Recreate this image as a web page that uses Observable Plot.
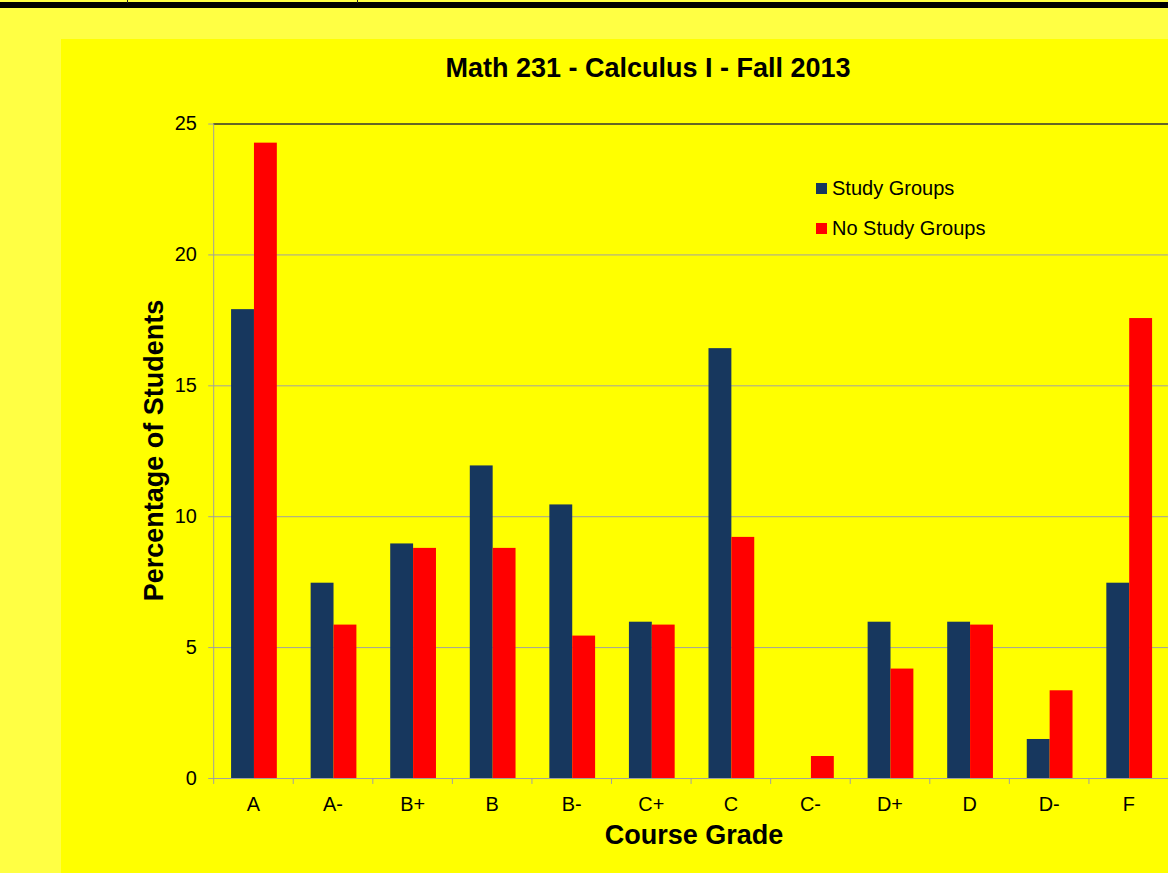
<!DOCTYPE html>
<html>
<head>
<meta charset="utf-8">
<script src="https://cdn.jsdelivr.net/npm/d3@7"></script>
<script src="https://cdn.jsdelivr.net/npm/@observablehq/plot@0.6"></script>
<style>
  html, body { margin: 0; padding: 0; }
  body { width: 1168px; height: 873px; overflow: hidden; background: #FFFF44; position: relative;
         font-family: "Liberation Sans", Arial, Helvetica, sans-serif; }
  #topbar { position: absolute; left: 0; top: 2px; width: 1168px; height: 6px; background: #000; }
  .notch { position: absolute; top: 0; width: 1px; height: 3px; background: #222; }
  #panel { position: absolute; left: 61px; top: 39px; width: 1107px; height: 834px; background: #FFFF00; overflow: hidden; }
  #title { position: absolute; left: 287px; width: 600px; top: 16px; height: 27px; line-height: 27px;
           text-align: center; font-size: 27px; font-weight: bold; color: #000; white-space: nowrap; }
  #ylabel { position: absolute; left: -107px; width: 400px; top: 398px; height: 27px; line-height: 27px;
            text-align: center; font-size: 27px; font-weight: bold; color: #000; white-space: nowrap;
            transform: rotate(-90deg); }
  #xlabel { position: absolute; left: 433px; width: 400px; top: 783px; height: 27px; line-height: 27px;
            text-align: center; font-size: 27px; font-weight: bold; color: #000; white-space: nowrap; }
  .lg-sw { position: absolute; width: 11px; height: 11px; }
  .lg-tx { position: absolute; font-size: 20px; line-height: 20px; height: 20px; color: #000; white-space: nowrap; }
  #chart { position: absolute; left: 0; top: 0; }
</style>
</head>
<body>
<div id="topbar"></div>
<div class="notch" style="left:127px"></div>
<div class="notch" style="left:357px"></div>
<div id="panel">
  <div id="chart"></div>
  <div id="title"></div>
  <div id="ylabel"></div>
  <div id="xlabel"></div>
  <div id="legend"></div>
</div>
<script>
// ---- data ----
const grades = ["A", "A-", "B+", "B", "B-", "C+", "C", "C-", "D+", "D", "D-", "F"];
const studyGroups   = [17.91, 7.46, 8.96, 11.94, 10.45, 5.97, 16.42, 0, 5.97, 5.97, 1.49, 7.46];
const noStudyGroups = [24.27, 5.86, 8.79, 8.79, 5.44, 5.86, 9.21, 0.84, 4.18, 5.86, 3.35, 17.57];
const seriesNames = ["Study Groups", "No Study Groups"];
const seriesColors = ["#17375E", "#FF0000"];
const yTicks = [0, 5, 10, 15, 20, 25];
const titleText = "Math 231 - Calculus I - Fall 2013";
const xLabelText = "Course Grade";
const yLabelText = "Percentage of Students";

const rows = grades.map((g, i) => ({grade: g, study: studyGroups[i], none: noStudyGroups[i]}));

document.getElementById("title").textContent = titleText;
document.getElementById("xlabel").textContent = xLabelText;
document.getElementById("ylabel").textContent = yLabelText;

// legend
const legend = document.getElementById("legend");
seriesNames.forEach((name, i) => {
  const sw = document.createElement("div");
  sw.className = "lg-sw";
  sw.style.left = (816 - 61) + "px";
  sw.style.top = (183 - 39 + i * 40) + "px";
  sw.style.background = seriesColors[i];
  legend.appendChild(sw);
  const tx = document.createElement("div");
  tx.className = "lg-tx";
  tx.style.left = (832 - 61) + "px";
  tx.style.top = (178 - 39 + i * 40) + "px";
  tx.textContent = name;
  legend.appendChild(tx);
});

const chart = Plot.plot({
  width: 1113,
  height: 834,
  marginLeft: 153,
  marginRight: 0,
  marginTop: 85,
  marginBottom: 91,
  style: {background: "transparent", fontFamily: "'Liberation Sans', Arial, sans-serif", fontSize: "20px", color: "black", overflow: "visible"},
  x: {domain: grades, padding: 0, axis: null},
  y: {domain: [0, 25], axis: null},
  marks: [
    Plot.gridY({ticks: yTicks.filter(t => t > 0 && t < 25), stroke: "#a0a0a0", strokeOpacity: 1}),
    Plot.barY(rows, {x: "grade", y: "study", fill: seriesColors[0], insetLeft: 18, insetRight: 39}),
    Plot.barY(rows, {x: "grade", y: "none", fill: seriesColors[1], insetLeft: 41, insetRight: 16}),
    Plot.ruleY([0], {stroke: "#a0a0a0"}),
    Plot.ruleY([25], {stroke: "#333333", strokeWidth: 1.5}),
    Plot.frame({anchor: "left", stroke: "#a0a0a0"}),
    Plot.axisY({ticks: yTicks, tickSize: 5, tickPadding: 12, stroke: "#a0a0a0", fill: "black", fontSize: 20, label: null}),
    Plot.axisX({tickSize: 0, tickPadding: 18, fill: "black", fontSize: 20, label: null}),
    Plot.axisX({tickSize: 6, tickFormat: () => "", dx: -40, stroke: "#a0a0a0", label: null})
  ]
});
document.getElementById("chart").appendChild(chart);
</script>
</body>
</html>
